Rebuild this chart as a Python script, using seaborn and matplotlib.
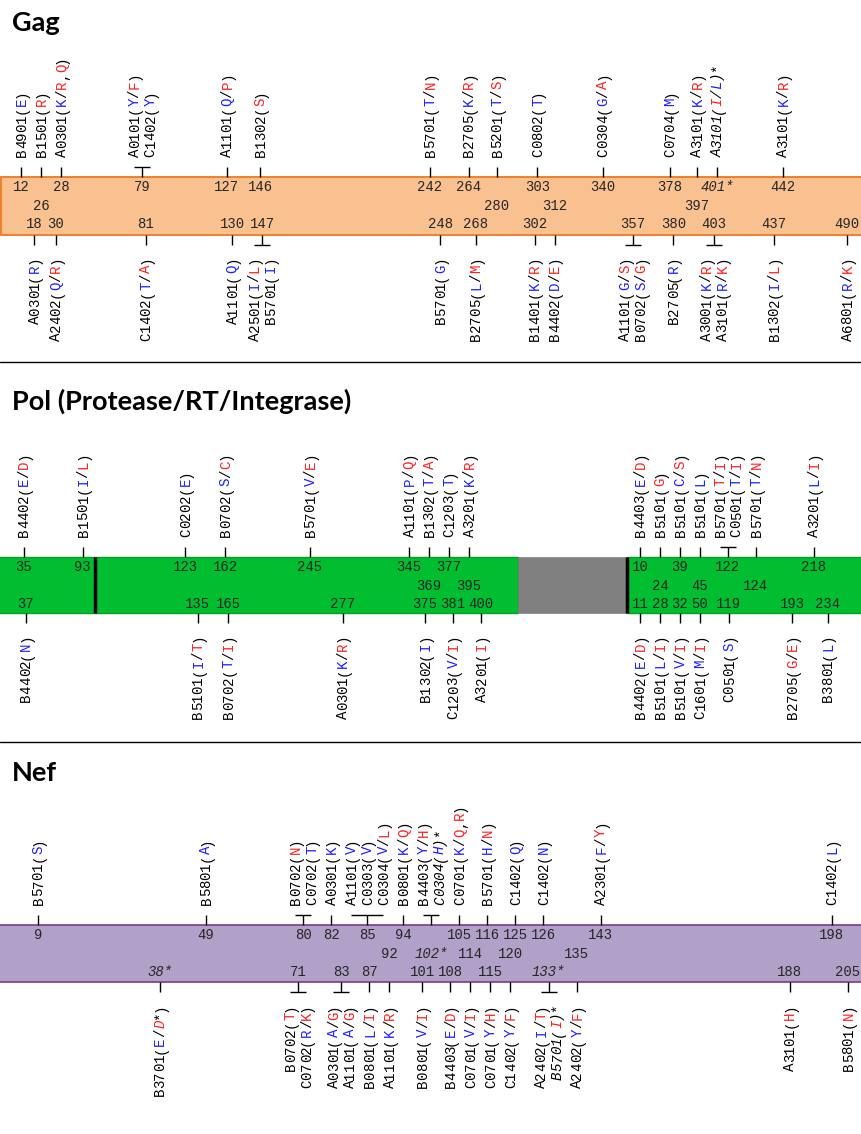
import numpy as np
import matplotlib
matplotlib.use("Agg")
import matplotlib.pyplot as plt
import seaborn as sns

# ---------------------------------------------------------------- DATA
# label markup: 'b' -> next char blue, 'r' -> next char red, '_' toggles italic
GAG_TOP_POS = [12, 26, 28, 79, 127, 146, 242, 264, 280, 303, 340, 378, 397, 401, 442]
GAG_TOP_LABELS = [
    ["B4901(bE)"], ["B1501(rR)"], ["A0301(bK/rR,rQ)"], ["A0101(bY/rF)", "C1402(bY)"],
    ["A1101(bQ/rP)"], ["B1302(rS)"], ["B5701(bT/rN)"], ["B2705(bK/rR)"], ["B5201(bT/rS)"],
    ["C0802(bT)"], ["C0304(bG/rA)"], ["C0704(bM)"], ["A3101(bK/rR)"], ["_A3101(rI/bL)_*"],
    ["A3101(bK/rR)"]]
GAG_BOTTOM_POS = [18, 30, 81, 130, 147, 248, 268, 302, 312, 357, 380, 403, 437, 490]
GAG_BOTTOM_LABELS = [
    ["A0301(bR)"], ["A2402(bQ/rR)"], ["C1402(bT/rA)"], ["A1101(bQ)"],
    ["A2501(bI/rL)", "B5701(bI)"], ["B5701(bG)"], ["B2705(bL/rM)"], ["B1401(bK/rR)"],
    ["B4402(bD/rE)"], ["A1101(bG/rS)", "B0702(bS/rG)"], ["B2705(bR)"],
    ["A3001(bK/rR)", "A3101(bR/rK)"], ["B1302(bI/rL)"], ["A6801(bR/rK)"]]
GAG_STARRED = [401]

POL_TOP_DOMAIN = ["PR", "PR", "RT", "RT", "RT", "RT", "RT", "RT", "RT",
                  "IN", "IN", "IN", "IN", "IN", "IN", "IN"]
POL_TOP_POS = [35, 93, 123, 162, 245, 345, 369, 377, 395, 10, 24, 39, 45, 122, 124, 218]
POL_TOP_LABELS = [
    ["B4402(bE/rD)"], ["B1501(bI/rL)"], ["C0202(bE)"], ["B0702(bS/rC)"], ["B5701(bV/rE)"],
    ["A1101(bP/rQ)"], ["B1302(bT/rA)"], ["C1203(bT)"], ["A3201(bK/rR)"], ["B4403(bE/rD)"],
    ["B5101(rG)"], ["B5101(bC/rS)"], ["B5101(bL)"], ["B5701(rT/rI)", "C0501(bT/rI)"],
    ["B5701(bT/rN)"], ["A3201(bL/rI)"]]
POL_BOTTOM_DOMAIN = ["PR", "RT", "RT", "RT", "RT", "RT", "RT",
                     "IN", "IN", "IN", "IN", "IN", "IN", "IN"]
POL_BOTTOM_POS = [37, 135, 165, 277, 375, 381, 400, 11, 28, 32, 50, 119, 193, 234]
POL_BOTTOM_LABELS = [
    ["B4402(bN)"], ["B5101(bI/rT)"], ["B0702(bT/rI)"], ["A0301(bK/rR)"], ["B1302(bI)"],
    ["C1203(bV/rI)"], ["A3201(rI)"], ["B4402(bE/rD)"], ["B5101(bL/rI)"], ["B5101(bV/rI)"],
    ["C1601(bM/rI)"], ["C0501(bS)"], ["B2705(rG/rE)"], ["B3801(bL)"]]
POL_STARRED = []

NEF_TOP_POS = [9, 49, 80, 82, 85, 94, 102, 105, 116, 125, 126, 143, 198]
NEF_TOP_LABELS = [
    ["B5701(bS)"], ["B5801(bA)"], ["B0702(rN)", "C0702(bT)"], ["A0301(bK)"],
    ["A1101(bV)", "C0303(bV)", "C0304(bV/rL)"], ["B0801(bK/rQ)"],
    ["B4403(bY/rH)", "_C0304(bH)_*"], ["C0701(bK/rQ,rR)"], ["B5701(bH/rN)"],
    ["C1402(bQ)"], ["C1402(bN)"], ["A2301(bF/rY)"], ["C1402(bL)"]]
NEF_BOTTOM_POS = [38, 71, 83, 87, 92, 101, 108, 114, 115, 120, 133, 135, 188, 205]
NEF_BOTTOM_LABELS = [
    ["B3701(bE/_rD_*)"], ["B0702(rT)", "C0702(bR/rK)"], ["A0301(bA/rG)", "A1101(bA/rG)"],
    ["B0801(bL/rI)"], ["A1101(bK/rR)"], ["B0801(bV/rI)"], ["B4403(bE/rD)"], ["C0701(bV/rI)"],
    ["C0701(bY/rH)"], ["C1402(bY/rF)"], ["A2402(bI/rT)", "_B5701(rI)_*"], ["A2402(bY/rF)"],
    ["A3101(rH)"], ["B5801(rN)"]]
NEF_STARRED = [38, 102, 133]

# ---------------------------------------------------------------- STYLE
sns.set_theme(style="white")
plt.rcParams['font.family'] = ['Liberation Mono', 'DejaVu Sans Mono']

W, H = 861, 1134
fig = plt.figure(figsize=(W / 100, H / 100), dpi=100)
ax = fig.add_axes([0, 0, 1, 1])
ax.set_xlim(0, W)
ax.set_ylim(H, 0)
ax.set_axis_off()

BLUE = '#2020ff'
RED = '#ff2020'
PX_PT = 100 / 72
LAB_FS = 10.2
NUM_FS = 10
LAB_ADV = 0.6 * LAB_FS * PX_PT
NUM_ADV = 0.6 * NUM_FS * PX_PT
LAB_PITCH = 16
LAB_W = 12
LAB_GAP = 8
BASE_SHIFT = 4.6
TICK = 10
TXT_OFF_T = 20
TXT_OFF_B = 21
ROW_OFF = {0: 10, 1: 28.5, 2: 47}


def parse(markup):
    out, col, ital = [], None, False
    for ch in markup:
        if ch == 'b':
            col = BLUE
            continue
        if ch == 'r':
            col = RED
            continue
        if ch == '_':
            ital = not ital
            continue
        out.append((ch, col or 'black', ital))
        col = None
    return out


def draw_vlabel(xc, y_edge, markup, upward):
    chars = parse(markup)
    n = len(chars)
    for i, (ch, col, it) in enumerate(chars):
        if upward:
            yc = y_edge - (i + 0.5) * LAB_ADV
        else:
            yc = y_edge + (n - i - 0.5) * LAB_ADV
        ax.text(xc + BASE_SHIFT, yc, ch, rotation=90, rotation_mode='anchor',
                ha='center', va='baseline', color=col, fontsize=LAB_FS,
                fontstyle='italic' if it else 'normal', zorder=5)


def build_sites(top_pos, top_labels, bot_pos, bot_labels, starred, xfun, bounds,
                top_dom=None, bot_dom=None):
    sites = []
    for side, poss, labs, doms in (('t', top_pos, top_labels, top_dom),
                                   ('b', bot_pos, bot_labels, bot_dom)):
        for k, (p, lab) in enumerate(zip(poss, labs)):
            d = doms[k] if doms else None
            star = p in starred
            num = f"{p}*" if star else f"{p}"
            lo, hi = bounds(d)
            x0 = min(max(xfun(p, d), lo), hi)
            sites.append(dict(pos=p, side=side, labels=lab, num=num, star=star,
                              x0=xfun(p, d), x=x0, lo=lo, hi=hi,
                              lw=(len(lab) - 1) * LAB_PITCH + LAB_W,
                              nw=len(num) * NUM_ADV))
    return sites


def relax(sites, groups, n_iter=2000):
    for _ in range(n_iter):
        worst = 0.0
        for members, wkey, gap in groups:
            for a, b in zip(members[:-1], members[1:]):
                need = (a[wkey] + b[wkey]) / 2 + gap
                d = need - (b['x'] - a['x'])
                if d > 1e-3:
                    a['x'] -= d / 2
                    b['x'] += d / 2
                    worst = max(worst, d)
        for s in sites:
            s['x'] = min(max(s['x'], s['lo']), s['hi'])
        if worst < 0.01:
            break


def assign_rows(sites):
    placed = []
    for s in sorted(sites, key=lambda s: s['x']):
        pref = 0 if s['side'] == 't' else 2

        def ok(row):
            return all(abs(s['x'] - p['x']) >= (s['nw'] + p['nw']) / 2 + 4.5
                       for p in placed if p['row'] == row)
        if ok(pref):
            s['row'] = pref
        elif ok(1):
            s['row'] = 1
        else:
            s['row'] = pref
        placed.append(s)


def layout(sites):
    side_groups = [sorted([s for s in sites if s['side'] == sd], key=lambda s: s['x0'])
                   for sd in 'tb']
    relax(sites, [(g, 'lw', LAB_GAP) for g in side_groups])
    assign_rows(sites)
    row_groups = [sorted([s for s in sites if s['row'] == r], key=lambda s: s['x'])
                  for r in (0, 1, 2)]
    relax(sites, [(g, 'lw', LAB_GAP) for g in side_groups] + [(g, 'nw', 3) for g in row_groups])


def draw_sites(sites, top, bot):
    for s in sites:
        x = s['x']
        n = len(s['labels'])
        if s['side'] == 't':
            y0, y1, edge, up = top - TICK, top, top - TXT_OFF_T, True
        else:
            y0, y1, edge, up = bot + TICK, bot, bot + TXT_OFF_B, False
        ax.plot([x, x], [y0, y1], color='black', lw=1.0, solid_capstyle='butt', zorder=4)
        if n > 1:
            half = (n - 1) * LAB_PITCH / 2
            ax.plot([x - half, x + half], [y0, y0], color='black', lw=1.0,
                    solid_capstyle='butt', zorder=4)
        for k, lab in enumerate(s['labels']):
            xc = x + (k - (n - 1) / 2) * LAB_PITCH
            draw_vlabel(xc, edge, lab, up)
        ax.text(x, top + ROW_OFF[s['row']], s['num'], ha='center', va='center',
                fontsize=NUM_FS, fontstyle='italic' if s['star'] else 'normal', zorder=5)


def title(y, text):
    ax.text(12, y, text, ha='left', va='baseline', fontsize=19.5, fontweight='bold',
            family=['Lato', 'DejaVu Sans'], color='black')


# ---------------------------------------------------------------- GAG
GAG_TOP, GAG_BOT = 177, 235
gag_x = lambda p, d=None: (p + 1.5) * 1.765
gag_sites = build_sites(GAG_TOP_POS, GAG_TOP_LABELS, GAG_BOTTOM_POS, GAG_BOTTOM_LABELS,
                        GAG_STARRED, gag_x, lambda d: (10, 847))
layout(gag_sites)
ax.barh(y=(GAG_TOP + GAG_BOT) / 2, width=W + 20, left=1,
        height=GAG_BOT - GAG_TOP, color='#F9C190', edgecolor='#F0802A', linewidth=1.4, zorder=1)
draw_sites(gag_sites, GAG_TOP, GAG_BOT)
title(31, "Gag")
ax.axhline(362, color='black', lw=1.0)

# ---------------------------------------------------------------- POL
POL_TOP, POL_BOT = 557, 613
POL_SCALE = {'PR': (-12.0, 1.02), 'RT': (60.0, 1.02), 'IN': (627.0, 0.857)}
POL_BOUNDS = {'PR': (10, 84), 'RT': (108, 508), 'IN': (640, 847)}
PR_END_X, RT_END_X, IN_START_X = 95, 518, 627
pol_x = lambda p, d: POL_SCALE[d][0] + p * POL_SCALE[d][1]
pol_sites = build_sites(POL_TOP_POS, POL_TOP_LABELS, POL_BOTTOM_POS, POL_BOTTOM_LABELS,
                        POL_STARRED, pol_x, lambda d: POL_BOUNDS[d],
                        POL_TOP_DOMAIN, POL_BOTTOM_DOMAIN)
layout(pol_sites)
pc, ph = (POL_TOP + POL_BOT) / 2, POL_BOT - POL_TOP
ax.barh(y=pc, width=RT_END_X + 2, left=-2, height=ph,
        color='#00BE30', edgecolor='#00A02A', linewidth=1.0, zorder=1)
ax.barh(y=pc, width=IN_START_X - RT_END_X, left=RT_END_X, height=ph,
        color='#808080', edgecolor='#808080', linewidth=0.5, zorder=1)
ax.barh(y=pc, width=W + 20 - IN_START_X, left=IN_START_X, height=ph,
        color='#00BE30', edgecolor='#00A02A', linewidth=1.0, zorder=1)
for xb in (PR_END_X, IN_START_X):
    ax.plot([xb, xb], [POL_TOP, POL_BOT], color='black', lw=2.5, solid_capstyle='butt', zorder=3)
draw_sites(pol_sites, POL_TOP, POL_BOT)
title(410, "Pol (Protease/RT/Integrase)")
ax.axhline(742, color='black', lw=1.0)

# ---------------------------------------------------------------- NEF
NEF_TOP, NEF_BOT = 925, 982
nef_x = lambda p, d=None: p * 4.2
nef_sites = build_sites(NEF_TOP_POS, NEF_TOP_LABELS, NEF_BOTTOM_POS, NEF_BOTTOM_LABELS,
                        NEF_STARRED, nef_x, lambda d: (10, 848))
layout(nef_sites)
ax.barh(y=(NEF_TOP + NEF_BOT) / 2, width=W + 20, left=-2,
        height=NEF_BOT - NEF_TOP, color='#B1A0C8', edgecolor='#7B3A8E', linewidth=1.2, zorder=1)
draw_sites(nef_sites, NEF_TOP, NEF_BOT)
title(781, "Nef")

fig.savefig("out.png", dpi=100)
